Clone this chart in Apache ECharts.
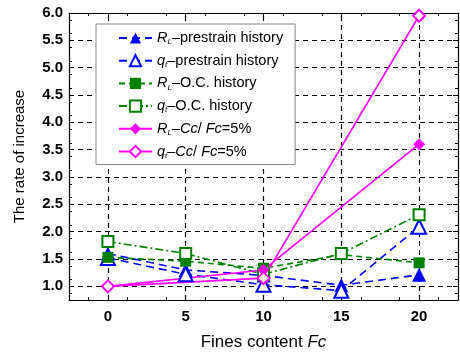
<!DOCTYPE html>
<html><head><meta charset="utf-8">
<script src="https://cdn.jsdelivr.net/npm/echarts@6/dist/echarts.min.js"></script>
<style>html,body{margin:0;padding:0;background:#fff}#c{width:460px;height:356px}</style>
</head><body><div id="c"></div>
<script>
var fines = [0, 5, 10, 15, 20];
var rlPre = [1.60, 1.30, 1.20, 1.02, 1.21];
var qtPre = [1.52, 1.22, 1.03, 0.92, 2.09];
var rlOC  = [1.53, 1.46, 1.33, 1.58, 1.43];
var qtOC  = [1.82, 1.60, 1.22, 1.60, 2.31];
var ccFines = [0, 10, 20];
var rlCc = [1.00, 1.30, 3.60];
var qtCc = [1.00, 1.15, 5.95];
var xTicks = [0, 5, 10, 15, 20];
var yTicks = [1.0, 1.5, 2.0, 2.5, 3.0, 3.5, 4.0, 4.5, 5.0, 5.5, 6.0];
var gridX = [0, 5, 10, 15, 20];
var gridY = [1.0, 1.5, 2.0, 2.5, 3.0, 3.5, 4.0, 4.5, 5.0, 5.5];

var legendLabels = {
  'RL-pre': '{i|R}{s|L}–prestrain history',
  'qt-pre': '{i|q}{s|t}–prestrain history',
  'RL-OC': '{i|R}{s|L}–O.C. history',
  'qt-OC': '{i|q}{s|t}–O.C. history',
  'RL-Cc': '{i|R}{s|L}–{i|Cc}/ {i|Fc}=5%',
  'qt-Cc': '{i|q}{s|t}–{i|Cc}/ {i|Fc}=5%'
};
function pairs(xs, ys){ return xs.map(function(x,i){ return [x, ys[i]]; }); }
var BLUE='#0000ff', GREEN='#008000', MAG='#ff00ff';
function ser(name, xs, ys, color, symbol, size, filled, dash){
  return {
    name: name, type: 'line', data: pairs(xs, ys), z: 5,
    symbol: symbol, symbolSize: size, showSymbol: true,
    lineStyle: {color: color, width: 1.6, type: dash},
    itemStyle: {color: filled ? color : '#fff', borderColor: color, borderWidth: filled ? 0 : 2},
    emphasis: {disabled: true}, animation: false
  };
}
var font = 'Liberation Sans, Arial, sans-serif';
var chart = echarts.init(document.getElementById('c'), null, {renderer: 'canvas'});
function axLine(){ return {onZero: false, lineStyle: {color: '#000', width: 1.2}}; }
chart.setOption({
  animation: false,
  grid: {left: 69, right: 2, top: 13, bottom: 56, containLabel: false},
  legend: {
    orient: 'vertical', left: 96, top: 24, zlevel: 1, z: 50,
    data: ['RL-pre','qt-pre','RL-OC','qt-OC','RL-Cc','qt-Cc'],
    itemWidth: 33, itemHeight: 14, itemGap: 6.7,
    padding: [6, 12, 5, 22],
    backgroundColor: '#fff', borderColor: '#888', borderWidth: 1,
    formatter: function(n){ return legendLabels[n]; },
    textStyle: {fontFamily: font, fontSize: 14.5, color: '#000', lineHeight: 16,
      rich: {
        i: {fontStyle: 'italic', fontSize: 14.5, fontFamily: font, lineHeight: 16},
        s: {fontStyle: 'italic', fontSize: 8, fontFamily: font, lineHeight: 16, verticalAlign: 'bottom', padding: [6, 0, 0, 0]}
      }}
  },
  xAxis: [{
    type: 'value', min: -2.5, max: 22.5, interval: 2.5, position: 'bottom',
    axisLine: axLine(),
    axisTick: {inside: true, length: 5, customValues: xTicks, lineStyle: {color: '#000'}},
    minorTick: {show: true, splitNumber: 2, length: 3, lineStyle: {color: '#000'}},
    axisLabel: {customValues: xTicks, color: '#000', fontFamily: font, fontSize: 15, fontWeight: 'bold', margin: 9,
      formatter: function(v){ return (Math.abs(v % 5) < 1e-6) ? String(v) : ''; }},
    splitLine: {show: false},
    name: '{n|Fines content }{i|Fc}', nameLocation: 'middle', nameGap: 34,
    nameTextStyle: {rich: {n: {fontFamily: font, fontSize: 17, color: '#000'}, i: {fontFamily: font, fontSize: 17, fontStyle: 'italic', color: '#000'}}}
  }, {
    type: 'value', min: -2.5, max: 22.5, interval: 2.5, position: 'top',
    axisLine: axLine(),
    axisTick: {inside: true, length: 5, customValues: xTicks, lineStyle: {color: '#000'}},
    minorTick: {show: true, splitNumber: 2, length: 3, lineStyle: {color: '#000'}},
    axisLabel: {show: false}, splitLine: {show: false}
  }],
  yAxis: [{
    type: 'value', min: 0.75, max: 6.0, interval: 0.25, position: 'left',
    axisLine: axLine(),
    axisTick: {inside: true, length: 5, customValues: yTicks, lineStyle: {color: '#000'}},
    minorTick: {show: true, splitNumber: 2, length: 3, lineStyle: {color: '#000'}},
    axisLabel: {customValues: yTicks, color: '#000', fontFamily: font, fontSize: 15, fontWeight: 'bold', margin: 6,
      formatter: function(v){ return v.toFixed(1); }},
    splitLine: {show: false},
    name: 'The rate of increase', nameLocation: 'middle', nameGap: 42,
    nameTextStyle: {fontFamily: font, fontSize: 15, color: '#000'}
  }, {
    type: 'value', min: 0.75, max: 6.0, interval: 0.25, position: 'right',
    axisLine: axLine(),
    axisTick: {inside: true, length: 5, customValues: yTicks, lineStyle: {color: '#000'}},
    minorTick: {show: true, splitNumber: 2, length: 3, lineStyle: {color: '#000'}},
    axisLabel: {show: false}, splitLine: {show: false}
  }],
  series: [
    {
      name: 'grid', type: 'line', data: [], silent: true, z: 1,
      markLine: {
        silent: true, symbol: ['none','none'], animation: false, label: {show: false},
        lineStyle: {color: '#000', type: [5, 4], width: 1.2},
        emphasis: {disabled: true},
        data: gridX.map(function(v){ return {xAxis: v}; }).concat(gridY.map(function(v){ return {yAxis: v}; }))
      }
    },
    ser('RL-pre', fines, rlPre, BLUE, 'triangle', 14, true, [8, 5]),
    ser('qt-pre', fines, qtPre, BLUE, 'triangle', 14, false, [8, 5]),
    ser('RL-OC', fines, rlOC, GREEN, 'rect', 11, true, [6, 4]),
    ser('qt-OC', fines, qtOC, GREEN, 'rect', 11, false, [8, 3, 2, 3]),
    ser('RL-Cc', ccFines, rlCc, MAG, 'diamond', 12, true, 'solid'),
    ser('qt-Cc', ccFines, qtCc, MAG, 'diamond', 12, false, 'solid')
  ]
});
</script></body></html>
